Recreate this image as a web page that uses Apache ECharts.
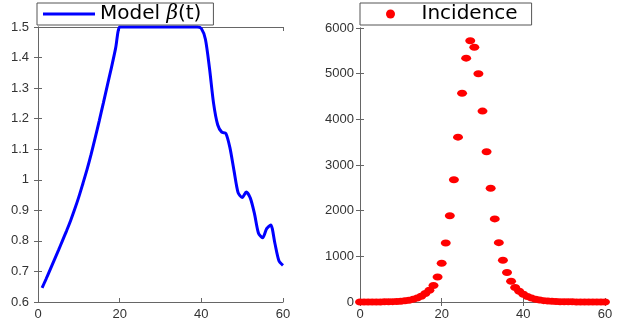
<!DOCTYPE html>
<html>
<head>
<meta charset="utf-8">
<script src="https://cdn.jsdelivr.net/npm/echarts@6/dist/echarts.min.js"></script>
<style>
  html, body { margin: 0; padding: 0; background: #fff; }
  #chart { width: 624px; height: 331px; }
</style>
</head>
<body>
<div id="chart"></div>
<script>
// left panel: model transmission rate beta(t), t = 1..60
const betaDays = Array.from({ length: 60 }, (_, i) => i + 1);
const betaValues = [
  0.646, 0.676, 0.707, 0.738, 0.769, 0.801, 0.833, 0.867, 0.904, 0.944,
  0.988, 1.033, 1.083, 1.137, 1.193, 1.251, 1.310, 1.368, 1.43, 1.5,
  1.5, 1.5, 1.5, 1.5, 1.5, 1.5, 1.5, 1.5, 1.5, 1.5,
  1.5, 1.5, 1.5, 1.5, 1.5, 1.5, 1.5, 1.5, 1.5, 1.495,
  1.46, 1.365, 1.25, 1.18, 1.156, 1.152, 1.105, 1.03, 0.958, 0.942,
  0.96, 0.94, 0.89, 0.825, 0.81, 0.84, 0.852, 0.793, 0.735, 0.72
];

// right panel: incidence, t = 0..60
const incDays = Array.from({ length: 61 }, (_, i) => i);
const incValues = [
  1, 1, 1, 1, 2, 2, 3, 5, 8, 12,
  18, 27, 40, 58, 85, 125, 184, 257, 360, 548,
  850, 1290, 1890, 2675, 3610, 4570, 5340, 5720, 5580, 5000,
  4180, 3290, 2490, 1820, 1300, 916, 647, 455, 316, 235,
  169, 120, 85, 60, 42, 30, 21, 15, 10, 7,
  5, 4, 3, 2, 2, 1, 1, 1, 1, 1, 1
];

const betaName = 'Model β(t)';
const incName = 'Incidence';

const axisColor = '#666';
const labelStyle = { color: '#333', fontSize: 13, fontFamily: 'Liberation Sans' };

function xAxes(grid) {
  const base = {
    type: 'value', gridIndex: grid, min: 0, max: 60, interval: 20,
    splitLine: { show: false },
    axisLine: { show: true, lineStyle: { color: axisColor } },
    axisTick: { inside: true, length: 4, lineStyle: { color: axisColor } }
  };
  return [
    Object.assign({}, base, { position: 'bottom', axisLabel: Object.assign({ margin: 6 }, labelStyle) }),
    Object.assign({}, base, { position: 'top', axisLabel: { show: false } })
  ];
}

function yAxes(grid, min, max, interval, margin) {
  const base = {
    type: 'value', gridIndex: grid, min: min, max: max, interval: interval,
    splitLine: { show: false },
    axisLine: { show: true, lineStyle: { color: axisColor } },
    axisTick: { inside: true, length: 4, lineStyle: { color: axisColor } }
  };
  return [
    Object.assign({}, base, {
      position: 'left',
      axisLabel: Object.assign({ margin: margin, formatter: v => String(v) }, labelStyle)
    }),
    Object.assign({}, base, { position: 'right', axisLabel: { show: false } })
  ];
}

const chart = echarts.init(document.getElementById('chart'));

chart.setOption({
  animation: false,
  grid: [
    { left: 38, top: 27, width: 245, height: 275 },
    { left: 360, top: 28, width: 245, height: 274 }
  ],
  xAxis: [].concat(xAxes(0), xAxes(1)),
  yAxis: [].concat(yAxes(0, 0.6, 1.5, 0.1, 9), yAxes(1, 0, 6000, 1000, 6)),
  legend: [
    {
      data: [{ name: betaName, icon: 'rect' }], left: 37, top: 3,
      padding: [1, 12, 1, 6],
      itemWidth: 52, itemHeight: 3,
      borderColor: '#555', borderWidth: 1, borderRadius: 0,
      backgroundColor: '#fff',
      formatter: () => 'Model {b|β}(t)',
      textStyle: {
        color: '#000', fontSize: 20, fontFamily: 'DejaVu Sans',
        rich: { b: { fontStyle: 'italic', fontSize: 20, fontFamily: 'DejaVu Serif', color: '#000' } }
      }
    },
    {
      data: [{ name: incName, icon: 'circle' }], left: 360, top: 3,
      padding: [1, 14, 1, 26],
      itemWidth: 52, itemHeight: 9,
      borderColor: '#555', borderWidth: 1, borderRadius: 0,
      backgroundColor: '#fff',
      textStyle: { color: '#000', fontSize: 20, fontFamily: 'DejaVu Sans' }
    }
  ],
  series: [
    {
      name: betaName, type: 'line',
      xAxisIndex: 0, yAxisIndex: 0,
      data: betaDays.map((t, i) => [t, betaValues[i]]),
      smooth: 0.25, symbol: 'none', clip: false,
      lineStyle: { color: '#0000ff', width: 3 },
      itemStyle: { color: '#0000ff' }
    },
    {
      name: incName, type: 'scatter',
      xAxisIndex: 2, yAxisIndex: 2,
      data: incDays.map((t, i) => [t, incValues[i]]),
      symbol: 'circle', symbolSize: [10, 7], clip: false,
      itemStyle: { color: '#ff0000', opacity: 1 }
    }
  ]
});
</script>
</body>
</html>
